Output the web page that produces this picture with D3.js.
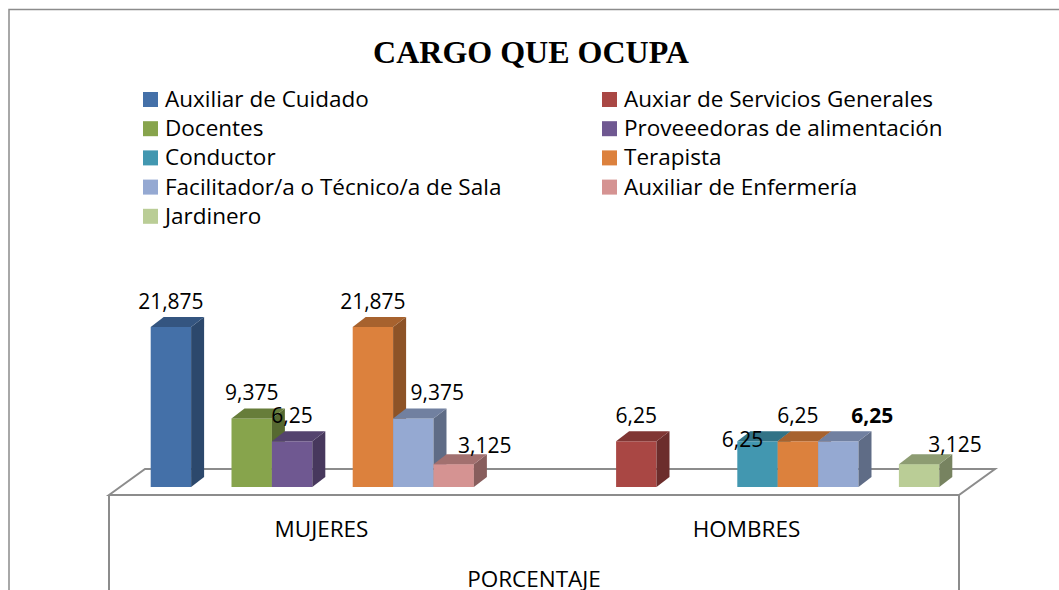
<!DOCTYPE html>
<html>
<head>
<meta charset="utf-8">
<script src="https://cdn.jsdelivr.net/npm/d3@7"></script>
<style>
  body { margin: 0; background: #fff; }
  text { font-family: "Open Sans", "Noto Sans", sans-serif; fill: #000; }
</style>
</head>
<body>
<div id="chart"></div>
<script>
var svgWidth = 1059;
var svgHeight = 590;

// data
var categories = ["MUJERES", "HOMBRES"];
var seriesNames = [
  "Auxiliar de Cuidado",
  "Auxiar de Servicios Generales",
  "Docentes",
  "Proveeedoras de alimentación",
  "Conductor",
  "Terapista",
  "Facilitador/a o Técnico/a de Sala",
  "Auxiliar de Enfermería",
  "Jardinero"
];
// one row per category, one value per series (0 = no bar)
var mujeresValues = [21.875, 0, 9.375, 6.25, 0, 21.875, 9.375, 3.125, 0];
var hombresValues = [0, 6.25, 0, 0, 6.25, 6.25, 6.25, 0, 3.125];
var axisTitle = "PORCENTAJE";
var chartTitle = "CARGO QUE OCUPA";

var frontColors = ["#4470a8", "#a94744", "#87a44c", "#6f5891", "#4297b0", "#dc813d", "#95a9d2", "#d59392", "#bacd96"];

// hand placed labels in the original: [category, series, dx, dy, bold]
var labelNudge = [
  [0, 6, 24, 0, false],
  [0, 7, 31, 7, false],
  [1, 4, -15, 24, false],
  [1, 6, 34, 0, true],
  [1, 8, 36, 6, false]
];

var valueRows = [mujeresValues, hombresValues];

var svg = d3.select("#chart")
  .append("svg")
  .attr("width", svgWidth)
  .attr("height", svgHeight);

// outer chart border
svg.append("rect")
  .attr("x", 9)
  .attr("y", 9.5)
  .attr("width", 1200)
  .attr("height", 800)
  .attr("fill", "none")
  .attr("stroke", "#8c8c8c")
  .attr("stroke-width", 1.5);

svg.append("text")
  .attr("x", 531)
  .attr("y", 63)
  .attr("text-anchor", "middle")
  .style("font-family", "'Liberation Serif', 'Times New Roman', serif")
  .style("font-weight", "bold")
  .style("font-size", "32px")
  .text(chartTitle);

// legend, two columns filled row by row
var legend = svg.append("g");
seriesNames.forEach(function(name, i) {
  var col = i % 2;
  var row = Math.floor(i / 2);
  var g = legend.append("g")
    .attr("transform", `translate(${col === 0 ? 143 : 602}, ${92 + row * 29.2})`);
  g.append("rect")
    .attr("width", 15)
    .attr("height", 15)
    .attr("fill", frontColors[i]);
  g.append("text")
    .attr("x", 22)
    .attr("y", 15)
    .style("font-size", "22.5px")
    .text(name);
});

// 3D geometry
var depth = { dx: 36, dy: -26 };     // floor depth
var barDepth = { dx: 13, dy: -10 };  // bar depth
var baseY = 487;                     // front bottom of bars
var floorFront = { y: 495, x0: 109, x1: 959 };
var frontShift = 11;                 // bar front plane vs floor front

var x0 = d3.scaleBand()
  .domain(categories)
  .range([floorFront.x0 + frontShift, floorFront.x1 + frontShift])
  .paddingInner(0);

var x1 = d3.scaleBand()
  .domain(d3.range(seriesNames.length))
  .range([0, x0.bandwidth()])
  .paddingInner(0)
  .paddingOuter(0.76);

var y = d3.scaleLinear()
  .domain([0, 25])
  .range([baseY, baseY - 25 * 7.314]);

// floor
var floor = svg.append("g");
floor.append("path")
  .attr("d", `M${floorFront.x0},${floorFront.y} L${floorFront.x0 + depth.dx},${floorFront.y + depth.dy} L${floorFront.x1 + depth.dx},${floorFront.y + depth.dy} L${floorFront.x1},${floorFront.y} Z`)
  .attr("fill", "#fff")
  .attr("stroke", "#8c8c8c")
  .attr("stroke-width", 2);
floor.append("path")
  .attr("d", `M${floorFront.x0},${floorFront.y} V${svgHeight + 10} M${floorFront.x1},${floorFront.y} V${svgHeight + 10}`)
  .attr("fill", "none")
  .attr("stroke", "#8c8c8c")
  .attr("stroke-width", 2);

function shade(c, k) {
  var col = d3.rgb(c);
  return d3.rgb(col.r * k, col.g * k, col.b * k).formatHex();
}

var bars = [];
categories.forEach(function(cat, ci) {
  valueRows[ci].forEach(function(v, si) {
    if (v > 0) bars.push({ cat: cat, ci: ci, si: si, value: v });
  });
});

var barGroup = svg.append("g");
bars.forEach(function(d) {
  var left = x0(d.cat) + x1(d.si);
  var right = left + x1.bandwidth();
  var top = y(d.value);
  var g = barGroup.append("g");
  // front face
  g.append("rect")
    .attr("x", left)
    .attr("y", top)
    .attr("width", right - left)
    .attr("height", baseY - top)
    .attr("fill", frontColors[d.si]);
  // side face
  g.append("path")
    .attr("d", `M${right},${top} L${right + barDepth.dx},${top + barDepth.dy} L${right + barDepth.dx},${baseY + barDepth.dy} L${right},${baseY} Z`)
    .attr("fill", shade(frontColors[d.si], 0.64));
  // top face
  g.append("path")
    .attr("d", `M${left},${top} L${left + barDepth.dx},${top + barDepth.dy} L${right + barDepth.dx},${top + barDepth.dy} L${right},${top} Z`)
    .attr("fill", shade(frontColors[d.si], 0.76));
});

// value labels with comma decimal
var esLocale = d3.formatLocale({ decimal: ",", thousands: ".", grouping: [3], currency: ["", "€"] });
var fmt = esLocale.format("~g");

svg.append("g")
  .selectAll("text")
  .data(bars)
  .enter()
  .append("text")
  .attr("text-anchor", "middle")
  .style("font-size", "21px")
  .each(function(d) {
    var nudge = labelNudge.find(n => n[0] === d.ci && n[1] === d.si);
    var cx = x0(d.cat) + x1(d.si) + x1.bandwidth() / 2 + (nudge ? nudge[2] : 0);
    var cy = y(d.value) - 18 + (nudge ? nudge[3] : 0);
    d3.select(this)
      .attr("x", cx)
      .attr("y", cy)
      .style("font-weight", nudge && nudge[4] ? "bold" : "normal")
      .text(fmt(d.value));
  });

// category labels on the floor front
svg.append("g")
  .selectAll("text")
  .data(categories)
  .enter()
  .append("text")
  .attr("x", d => x0(d) + x0.bandwidth() / 2 - frontShift)
  .attr("y", 537)
  .attr("text-anchor", "middle")
  .style("font-size", "22.5px")
  .text(d => d);

svg.append("text")
  .attr("x", (floorFront.x0 + floorFront.x1) / 2)
  .attr("y", 587)
  .attr("text-anchor", "middle")
  .style("font-size", "22.5px")
  .text(axisTitle);
</script>
</body>
</html>
